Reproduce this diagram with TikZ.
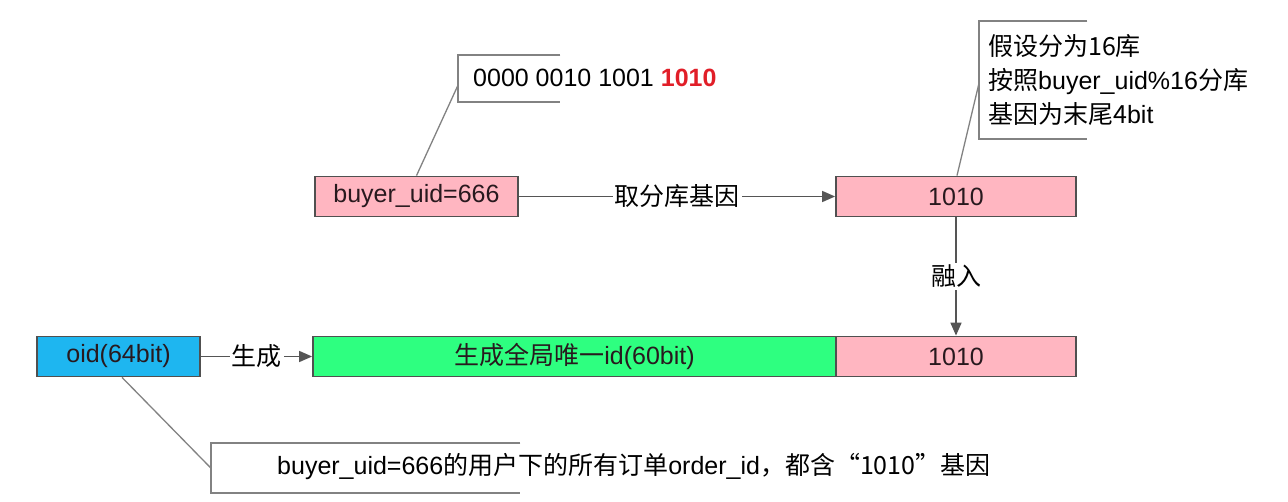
\documentclass[tikz,border=0pt]{standalone}
\usepackage{fontspec}
\setmainfont{Liberation Sans}
\newfontfamily\cjk{Noto Sans CJK SC}
\usetikzlibrary{arrows.meta}
\definecolor{pinkfill}{RGB}{255,182,193}
\definecolor{greenfill}{RGB}{46,255,128}
\definecolor{bluefill}{RGB}{30,182,240}
\definecolor{boxline}{RGB}{80,80,80}
\definecolor{boxtext}{RGB}{40,25,30}
\definecolor{arrowgray}{RGB}{85,85,85}
\definecolor{notegray}{RGB}{130,130,130}
\definecolor{redtxt}{RGB}{225,30,40}
\begin{document}
\begin{tikzpicture}[x=1pt,y=-1pt]
\tikzset{
  box/.style={draw=boxline, line width=1.8pt, minimum height=40pt, inner sep=0pt,
    font=\fontsize{25}{29}\selectfont, text=boxtext},
  lbl/.style={fill=white, inner sep=2pt, font=\fontsize{25}{29}\selectfont},
  flow/.style={draw=arrowgray, line width=1.6pt, -{Triangle[length=13pt,width=11pt]}},
  noteline/.style={draw=notegray, line width=1.3pt},
  bracket/.style={draw=notegray, line width=2pt},
  notetext/.style={inner sep=0pt, anchor=west, align=left, font=\fontsize{25}{34}\selectfont},
  noteframe/.style={inner sep=0pt, anchor=north west}
}
\useasboundingbox (0,0) rectangle (1288,502);
\fill[white] (0,0) rectangle (1288,502);

% boxes
\node[box, fill=pinkfill, minimum width=203pt] (buyer) at (416.5,196.5) {buyer\_uid=666};
\node[box, fill=pinkfill, minimum width=240pt] (top1010) at (956,196.5) {1010};
\node[box, fill=bluefill, minimum width=163pt] (oid) at (118.5,356.5) {oid(64bit)};
\node[box, fill=greenfill, minimum width=523pt] (green) at (574.5,356.5) {{\cjk 生成全局唯一}id(60bit)};
\node[box, fill=pinkfill, minimum width=240pt] (low1010) at (956,356.5) {1010};

% notes
\node[noteframe, minimum width=102pt, minimum height=47pt] (note1) at (458,55) {};
\draw[bracket] (note1.north east) -- (note1.north west) -- (note1.south west) -- (note1.south east);
\node[notetext] (t1) at (473,78) {0000 0010 1001 {\color{redtxt}\bfseries 1010}};

\node[noteframe, minimum width=108pt, minimum height=118pt] (note2) at (979,21) {};
\draw[bracket] (note2.north east) -- (note2.north west) -- (note2.south west) -- (note2.south east);
\node[notetext] (t2) at (988,80) {{\cjk 假设分为16库}\\{\cjk 按照}buyer\_uid\%16{\cjk 分库}\\{\cjk 基因为末尾4}bit};

\node[noteframe, minimum width=309pt, minimum height=50pt] (note3) at (211,443) {};
\draw[bracket] (note3.north east) -- (note3.north west) -- (note3.south west) -- (note3.south east);
\node[notetext] (t3) at (277,467) {buyer\_uid=666{\cjk 的用户下的所有订单}order\_id{\cjk ，都含“1010”基因}};

% note connectors
\draw[noteline] (buyer.north) -- ([yshift=-6.5pt]note1.west);
\draw[noteline] ([xshift=1pt]top1010.north) -- ([yshift=-3pt]note2.west);
\draw[noteline] ([xshift=3.5pt]oid.south) -- (note3.west);

% flow arrows
\draw[flow] (buyer) -- node[lbl] {\cjk 取分库基因} (top1010);
\draw[flow] (top1010) -- node[lbl] {\cjk 融入} (low1010);
\draw[flow] (oid) -- node[lbl] {\cjk 生成} (green);
\end{tikzpicture}
\end{document}
